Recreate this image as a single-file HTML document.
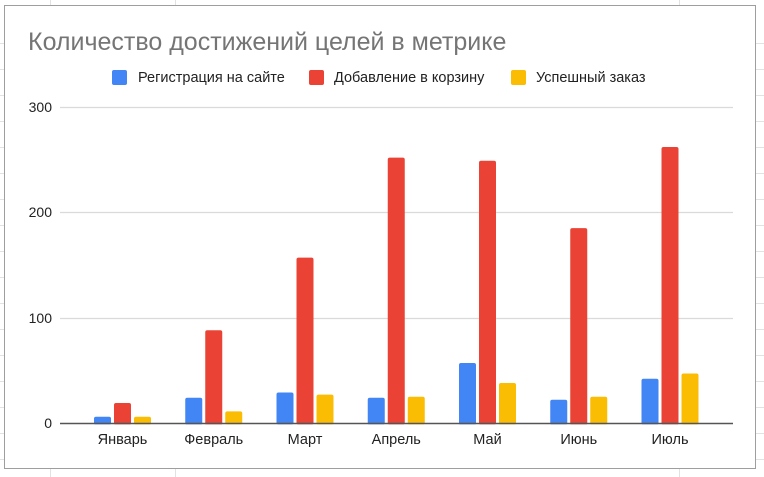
<!DOCTYPE html>
<html><head><meta charset="utf-8"><style>
html,body{margin:0;padding:0;background:#fff;}
svg{display:block;font-family:"Liberation Sans",Arial,sans-serif;}
</style></head><body>
<svg width="764" height="477" viewBox="0 0 764 477" xmlns="http://www.w3.org/2000/svg">
<g stroke="#e2e2e2" stroke-width="1">
<line x1="50.5" y1="0" x2="50.5" y2="5"/><line x1="175.5" y1="0" x2="175.5" y2="5"/><line x1="679.5" y1="0" x2="679.5" y2="5"/>
<line x1="50.5" y1="468" x2="50.5" y2="477"/><line x1="175.5" y1="468" x2="175.5" y2="477"/><line x1="679.5" y1="468" x2="679.5" y2="477"/>
<line x1="0" y1="43.5" x2="4" y2="43.5"/><line x1="0" y1="69.5" x2="4" y2="69.5"/><line x1="0" y1="95.5" x2="4" y2="95.5"/><line x1="0" y1="121.5" x2="4" y2="121.5"/><line x1="0" y1="147.5" x2="4" y2="147.5"/><line x1="0" y1="173.5" x2="4" y2="173.5"/><line x1="0" y1="199.5" x2="4" y2="199.5"/><line x1="0" y1="225.5" x2="4" y2="225.5"/><line x1="0" y1="251.5" x2="4" y2="251.5"/><line x1="0" y1="277.5" x2="4" y2="277.5"/><line x1="0" y1="303.5" x2="4" y2="303.5"/><line x1="0" y1="329.5" x2="4" y2="329.5"/><line x1="0" y1="355.5" x2="4" y2="355.5"/><line x1="0" y1="381.5" x2="4" y2="381.5"/><line x1="0" y1="407.5" x2="4" y2="407.5"/><line x1="0" y1="433.5" x2="4" y2="433.5"/><line x1="0" y1="459.5" x2="4" y2="459.5"/>
<line x1="756" y1="43.5" x2="764" y2="43.5"/><line x1="756" y1="69.5" x2="764" y2="69.5"/><line x1="756" y1="95.5" x2="764" y2="95.5"/><line x1="756" y1="121.5" x2="764" y2="121.5"/><line x1="756" y1="147.5" x2="764" y2="147.5"/><line x1="756" y1="173.5" x2="764" y2="173.5"/><line x1="756" y1="199.5" x2="764" y2="199.5"/><line x1="756" y1="225.5" x2="764" y2="225.5"/><line x1="756" y1="251.5" x2="764" y2="251.5"/><line x1="756" y1="277.5" x2="764" y2="277.5"/><line x1="756" y1="303.5" x2="764" y2="303.5"/><line x1="756" y1="329.5" x2="764" y2="329.5"/><line x1="756" y1="355.5" x2="764" y2="355.5"/><line x1="756" y1="381.5" x2="764" y2="381.5"/><line x1="756" y1="407.5" x2="764" y2="407.5"/><line x1="756" y1="433.5" x2="764" y2="433.5"/><line x1="756" y1="459.5" x2="764" y2="459.5"/>
</g>
<rect x="4.5" y="5.5" width="751" height="463" fill="#fff" stroke="#9e9e9e" stroke-width="1"/>
<text x="28" y="50" font-size="25" fill="#757575">Количество достижений целей в метрике</text>
<g font-size="14.5" fill="#222">
<rect x="112" y="70" width="15" height="15" rx="2" fill="#4285f4"/><text x="138" y="82">Регистрация на сайте</text>
<rect x="309" y="70" width="15" height="15" rx="2" fill="#ea4335"/><text x="334" y="82">Добавление в корзину</text>
<rect x="511" y="70" width="15" height="15" rx="2" fill="#fbbc04"/><text x="536" y="82">Успешный заказ</text>
</g>
<g stroke="#dadada" stroke-width="1.3">
<line x1="60" y1="107.5" x2="733" y2="107.5"/>
<line x1="60" y1="212.5" x2="733" y2="212.5"/>
<line x1="60" y1="318.5" x2="733" y2="318.5"/>
</g>
<g font-size="14" fill="#222" text-anchor="end">
<text x="52" y="112">300</text><text x="52" y="217">200</text><text x="52" y="323">100</text><text x="52" y="428">0</text>
</g>
<g fill="#4285f4">
<rect x="94" y="416.7" width="17" height="8" rx="2"/>
<rect x="185.25" y="397.7" width="17" height="27" rx="2"/>
<rect x="276.5" y="392.5" width="17" height="32" rx="2"/>
<rect x="367.75" y="397.7" width="17" height="27" rx="2"/>
<rect x="459" y="363" width="17" height="62" rx="2"/>
<rect x="550.25" y="399.8" width="17" height="25" rx="2"/>
<rect x="641.5" y="378.8" width="17" height="46" rx="2"/>
</g>
<g fill="#ea4335">
<rect x="114" y="403" width="17" height="22" rx="2"/>
<rect x="205.25" y="330.3" width="17" height="95" rx="2"/>
<rect x="296.5" y="257.6" width="17" height="167" rx="2"/>
<rect x="387.75" y="157.6" width="17" height="267" rx="2"/>
<rect x="479" y="160.7" width="17" height="264" rx="2"/>
<rect x="570.25" y="228.1" width="17" height="197" rx="2"/>
<rect x="661.5" y="147" width="17" height="278" rx="2"/>
</g>
<g fill="#fbbc04">
<rect x="134" y="416.7" width="17" height="8" rx="2"/>
<rect x="225.25" y="411.4" width="17" height="13" rx="2"/>
<rect x="316.5" y="394.6" width="17" height="30" rx="2"/>
<rect x="407.75" y="396.7" width="17" height="28" rx="2"/>
<rect x="499" y="383" width="17" height="42" rx="2"/>
<rect x="590.25" y="396.7" width="17" height="28" rx="2"/>
<rect x="681.5" y="373.5" width="17" height="51" rx="2"/>
</g>
<rect x="60" y="424.3" width="673" height="3" fill="#fff"/>
<line x1="60" y1="423.5" x2="733" y2="423.5" stroke="#555" stroke-width="1.5"/>
<g font-size="14.5" fill="#222" text-anchor="middle">
<text x="122.5" y="444">Январь</text><text x="213.75" y="444">Февраль</text><text x="305" y="444">Март</text><text x="396.25" y="444">Апрель</text><text x="487.5" y="444">Май</text><text x="578.75" y="444">Июнь</text><text x="670" y="444">Июль</text>
</g>
</svg>
</body></html>
